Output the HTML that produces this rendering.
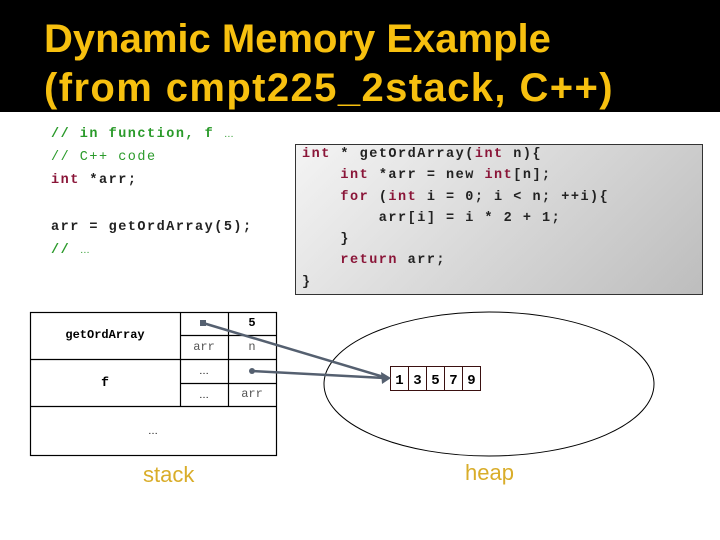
<!DOCTYPE html>
<html><head><meta charset="utf-8"><style>
body{margin:0;width:720px;height:540px;background:#fff;position:relative;overflow:hidden;font-family:"Liberation Sans",sans-serif}
.hdr{position:absolute;left:0;top:0;width:720px;height:112px;background:#000}
.t{position:absolute;left:44px;color:#f7c00f;font-weight:bold;font-size:40px;white-space:nowrap}
.c{position:absolute;font-family:"Liberation Mono",monospace;font-size:13.5px;letter-spacing:1.5px;white-space:pre;font-weight:bold;color:#222}
.k{color:#8a1538}.g{color:#2a9a2a}
.box{position:absolute;left:295px;top:144px;width:406px;height:149px;border:1.5px solid #333;background:linear-gradient(135deg,#f4f4f4,#bdbdbd)}
.m{position:absolute;font-family:"Liberation Mono",monospace;font-size:12px;text-align:center}
.d{position:absolute;font-family:"Liberation Sans",sans-serif;font-size:10px;text-align:center}
</style></head><body>
<div class="hdr"></div>
<div class="t" style="top:17px">Dynamic Memory Example</div>
<div class="t" style="top:66px;letter-spacing:1.4px">(from cmpt225_2stack, C++)</div>

<div class="c g" style="left:51px;top:127px">// in function, f <span style="font-family:'Liberation Sans';font-weight:normal;font-size:10px">…</span></div>
<div class="c g" style="left:51px;top:150px;font-weight:normal">// C++ code</div>
<div class="c" style="left:51px;top:173px"><span class="k">int</span> *arr;</div>
<div class="c" style="left:51px;top:220px">arr = getOrdArray(5);</div>
<div class="c g" style="left:51px;top:243px">// <span style="font-family:'Liberation Sans';font-weight:normal;font-size:10px">…</span></div>

<div class="box"></div>
<div class="c" style="left:302px;top:147px"><span class="k">int</span> * getOrdArray(<span class="k">int</span> n){</div>
<div class="c" style="left:302px;top:168px">    <span class="k">int</span> *arr = new <span class="k">int</span>[n];</div>
<div class="c" style="left:302px;top:190px">    <span class="k">for</span> (<span class="k">int</span> i = 0; i &lt; n; ++i){</div>
<div class="c" style="left:302px;top:211px">        arr[i] = i * 2 + 1;</div>
<div class="c" style="left:302px;top:232px">    }</div>
<div class="c" style="left:302px;top:253px">    <span class="k">return</span> arr;</div>
<div class="c" style="left:302px;top:275px">}</div>

<svg style="position:absolute;left:0;top:0" width="720" height="540">
<g stroke="#000" stroke-width="1.2" fill="none">
<rect x="30.5" y="312.5" width="246" height="143"/>
<line x1="30" y1="359.5" x2="276" y2="359.5"/>
<line x1="30" y1="406.5" x2="276" y2="406.5"/>
<line x1="180.5" y1="312" x2="180.5" y2="406"/>
<line x1="228.5" y1="312" x2="228.5" y2="406"/>
<line x1="180" y1="335.5" x2="276" y2="335.5"/>
<line x1="180" y1="383.5" x2="276" y2="383.5"/>
<ellipse cx="489" cy="384" rx="165" ry="72" stroke-width="1"/>
</g>
<g stroke="#3a1010" stroke-width="1" fill="#fff">
<rect x="390.5" y="366.5" width="18" height="24"/><rect x="408.5" y="366.5" width="18" height="24"/><rect x="426.5" y="366.5" width="18" height="24"/><rect x="444.5" y="366.5" width="18" height="24"/><rect x="462.5" y="366.5" width="18" height="24"/>
</g>
<g stroke="#556070" stroke-width="2.5" fill="#556070">
<line x1="203" y1="323" x2="384" y2="377"/>
<line x1="252" y1="371" x2="384" y2="378"/>
<rect x="200" y="320" width="6" height="6" stroke="none"/>
<circle cx="252" cy="371" r="3" stroke="none"/>
<polygon points="391,378 381,372 382,384" stroke="none"/>
</g>
<g font-family="Liberation Mono,monospace" font-weight="bold" font-size="14" text-anchor="middle">
<text x="399.5" y="384">1</text><text x="417.5" y="384">3</text><text x="435.5" y="384">5</text><text x="453.5" y="384">7</text><text x="471.5" y="384">9</text>
</g>
</svg>
<div class="m" style="left:30px;top:328px;width:150px;font-weight:bold">getOrdArray</div>
<div class="m" style="left:30px;top:375px;width:150px;font-weight:bold;font-size:13px">f</div>
<div class="m" style="left:228px;top:316px;width:48px;font-weight:bold">5</div>
<div class="m" style="left:180px;top:340px;width:48px;color:#555">arr</div>
<div class="m" style="left:228px;top:340px;width:48px;color:#555">n</div>
<div class="d" style="left:180px;top:366px;width:48px">…</div>
<div class="d" style="left:180px;top:390px;width:48px">…</div>
<div class="m" style="left:228px;top:387px;width:48px;color:#555">arr</div>
<div class="d" style="left:30px;top:426px;width:246px">…</div>
<div style="position:absolute;left:143px;top:462px;color:#d9ad2a;font-size:22px">stack</div>
<div style="position:absolute;left:465px;top:460px;color:#d9ad2a;font-size:22px">heap</div>
</body></html>
